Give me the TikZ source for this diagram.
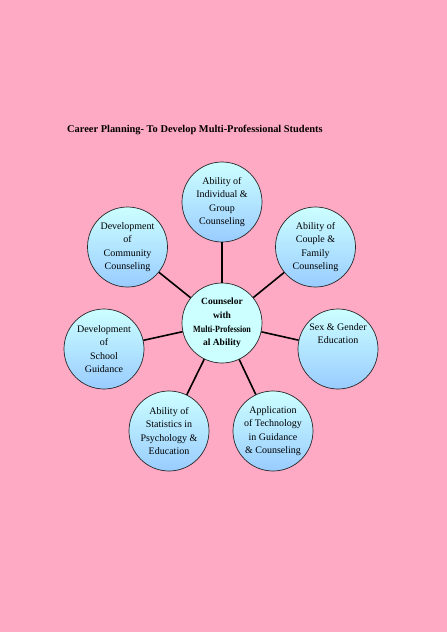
\documentclass[tikz,border=0pt]{standalone}
\usepackage{fontspec}
\setmainfont{Liberation Serif}
\usetikzlibrary{shadings}
\definecolor{bgpink}{RGB}{255,170,196}
\definecolor{lcyan}{RGB}{204,255,255}
\definecolor{lblue}{RGB}{153,204,255}
\begin{document}
\begin{tikzpicture}[x=1pt,y=-1pt,
  outer/.style={circle,draw=black!85,line width=0.7pt,minimum size=80pt,inner sep=0pt,
    top color=lcyan,bottom color=lblue,align=center,
    font=\fontsize{10}{13.5}\selectfont},
  hub/.style={circle,draw=black!85,line width=0.7pt,minimum size=80pt,inner sep=0pt,
    fill=lcyan,align=center,font=\fontsize{9.5}{13.7}\selectfont\bfseries},
  conn/.style={line width=1.6pt,black}]
\fill[bgpink] (0,0) rectangle (447,632);
\useasboundingbox (0,0) rectangle (447,632);
\node[anchor=base west,inner sep=0pt,font=\fontsize{10.4}{12}\selectfont\bfseries] (title) at (67,132)
  {Career Planning- To Develop Multi-Professional Students};
\node[hub] (c) at (222,323) {Counselor\\with\\\scalebox{0.85}[1]{Multi-Profession}\\al Ability};
\node[outer] (n1) at (222,202) {Ability of\\Individual \&\\Group\\Counseling};
\node[outer] (n2) at (315.5,247) {Ability of\\Couple \&\\Family\\Counseling};
\node[outer] (n3) at (338,349) {Sex \& Gender\\Education\\\strut\\\strut};
\node[outer] (n4) at (273,431) {Application\\of Technology\\in Guidance\\\& Counseling};
\node[outer] (n5) at (169,431) {Ability of\\Statistics in\\Psychology \&\\Education};
\node[outer] (n6) at (104,349) {Development\\of\\School\\Guidance};
\node[outer] (n7) at (127.5,247) {Development\\of\\Community\\Counseling};
\foreach \n in {n1,n2,n3,n4,n5,n6,n7} \draw[conn] (c) -- (\n);
\end{tikzpicture}
\end{document}
